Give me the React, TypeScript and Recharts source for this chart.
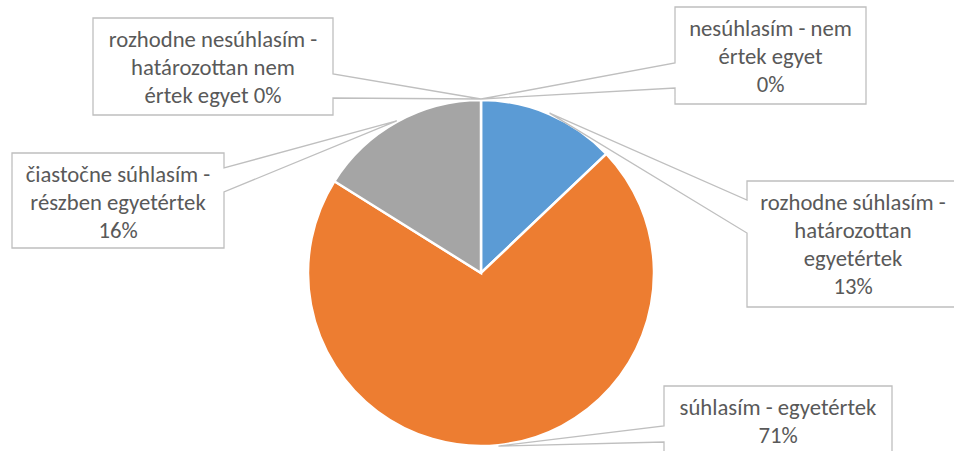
import React from 'react';
import { PieChart, Pie, Cell } from 'recharts';

const categories = [
  'rozhodne súhlasím - határozottan egyetértek',
  'súhlasím - egyetértek',
  'čiastočne súhlasím - részben egyetértek',
  'nesúhlasím - nem értek egyet',
  'rozhodne nesúhlasím - határozottan nem értek egyet',
];
const shares = [12.9, 71.0, 16.1, 0, 0];
const colors = ['#5B9BD5', '#ED7D31', '#A5A5A5', '#FFC000', '#4472C4'];
// label text split the way the callouts wrap it, {p} = percentage
const labelLines = [
  ['rozhodne súhlasím -', 'határozottan', 'egyetértek', '{p}'],
  ['súhlasím - egyetértek', '{p}'],
  ['čiastočne súhlasím -', 'részben egyetértek', '{p}'],
  ['nesúhlasím - nem', 'értek egyet', '{p}'],
  ['rozhodne nesúhlasím -', 'határozottan nem', 'értek egyet {p}'],
];

const data = categories.map((name, i) => ({ name, value: shares[i] }));

// callout boxes (layout only): box rect + where the pointer leaves the box edge
const callouts = [
  { x: 747, y: 181, w: 212, h: 126, side: 'left', a1: 200, a2: 233 },
  { x: 664, y: 386, w: 228, h: 80, side: 'left', a1: 426, a2: 442 },
  { x: 12, y: 153, w: 212, h: 95, side: 'right', a1: 168, a2: 192 },
  { x: 675, y: 7, w: 191, h: 97, side: 'left', a1: 63, a2: 88 },
  { x: 93, y: 18, w: 240, h: 97, side: 'right', a1: 74, a2: 98 },
];

const FONT = 'Calibri, Carlito, Lato, sans-serif';
const RADIAN = Math.PI / 180;

const renderCallout = (props: any) => {
  const { cx, cy, midAngle, outerRadius, percent, index } = props;
  const c = callouts[index];
  if (!c) return null;
  const ax = cx + (outerRadius + 1) * Math.cos(-midAngle * RADIAN);
  const ay = cy + (outerRadius + 1) * Math.sin(-midAngle * RADIAN);
  const { x, y, w, h } = c;
  const d =
    c.side === 'right'
      ? `M${x},${y} H${x + w} V${c.a1} L${ax},${ay} L${x + w},${c.a2} V${y + h} H${x} Z`
      : `M${x},${y} H${x + w} V${y + h} H${x} V${c.a2} L${ax},${ay} L${x},${c.a1} Z`;
  const pct = `${Math.round(percent * 100)}%`;
  return (
    <g key={`callout-${index}`}>
      <path d={d} fill="#fff" stroke="#BFBFBF" strokeWidth={1.3} />
      {labelLines[index].map((line, i) => (
        <text
          key={i}
          x={x + w / 2}
          y={y + 29 + i * 28}
          textAnchor="middle"
          fill="#595959"
          fontSize={22.7}
          fontFamily={FONT}
        >
          {line.replace('{p}', pct)}
        </text>
      ))}
    </g>
  );
};

export default function App() {
  return (
    <div style={{ position: 'absolute', left: 0, top: 0, background: '#fff' }}>
      <PieChart width={954} height={451} margin={{ top: 0, right: 0, bottom: 0, left: 0 }}>
        <Pie
          data={data}
          dataKey="value"
          nameKey="name"
          cx={481}
          cy={273}
          outerRadius={173}
          startAngle={90}
          endAngle={-270}
          stroke="#fff"
          strokeWidth={2.5}
          labelLine={false}
          label={renderCallout}
          isAnimationActive={false}
        >
          {data.map((entry, i) => (
            <Cell key={entry.name} fill={colors[i]} />
          ))}
        </Pie>
      </PieChart>
    </div>
  );
}
